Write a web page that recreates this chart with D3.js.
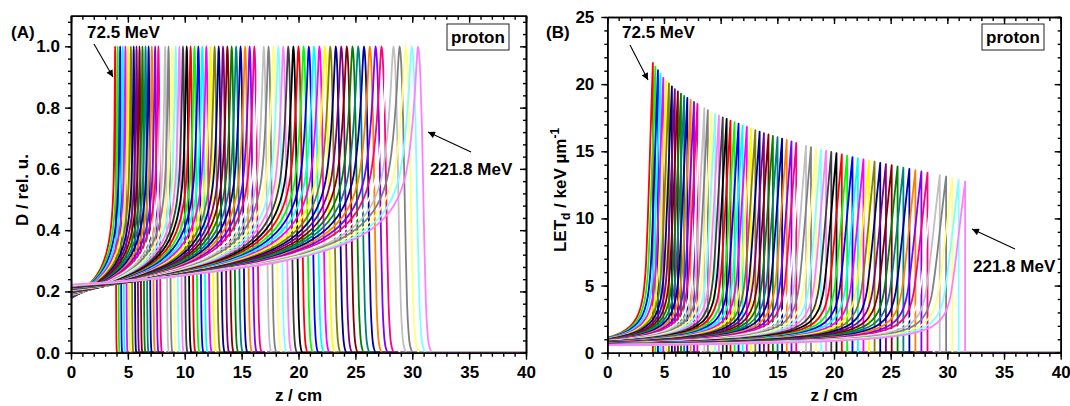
<!DOCTYPE html>
<html>
<head>
<meta charset="utf-8">
<script src="https://cdn.jsdelivr.net/npm/d3@7"></script>
<style>
  body { margin: 0; background: #fff; }
  svg { display: block; font-family: "Liberation Sans", Arial, sans-serif; font-weight: bold; }
</style>
</head>
<body>
<svg id="fig" width="1070" height="406"></svg>
<script>
// Proton beam energies (MeV), one depth-dose and one LETd curve per energy
const energies = [72.5,74.7,76.8,79.0,81.2,83.3,85.5,87.6,89.8,92.0,94.1,96.3,98.5,100.6,102.8,105.0,107.1,109.3,111.4,113.6,
  115.8,117.9,120.1,122.3,124.4,126.6,128.8,130.9,133.1,135.2,137.4,139.6,141.7,143.9,146.1,148.2,150.4,152.6,154.7,156.9,
  159.1,161.2,163.4,165.5,167.7,169.9,172.0,174.2,176.4,178.5,180.7,182.9,185.0,187.2,189.3,191.5,193.7,195.8,198.0,200.2,
  202.3,204.5,206.7,208.8,211.0,213.2,215.3,217.5,219.6,221.8];

// Depth of the dose maximum (cm)
const peakDepth = [3.88,4.10,4.32,4.55,4.78,5.01,5.26,5.51,5.76,6.02,6.28,6.55,6.82,7.10,7.39,7.68,7.97,8.27,8.57,8.88,
  9.20,9.52,9.84,10.17,10.51,10.85,11.19,11.54,11.89,12.25,12.62,12.98,13.36,13.74,14.12,14.51,14.90,15.30,15.70,16.11,
  16.52,16.94,17.36,17.78,18.22,18.65,19.09,19.54,19.99,20.44,20.90,21.36,21.83,22.31,22.78,23.27,23.75,24.24,24.74,25.24,
  25.75,26.26,26.77,27.29,27.81,28.34,28.88,29.41,29.95,30.50];

// Depth of the LETd maximum (cm)
const letPeakDepth = [4.02,4.24,4.47,4.70,4.94,5.19,5.44,5.70,5.96,6.23,6.50,6.78,7.06,7.35,7.65,7.95,8.25,8.56,8.87,9.19,
  9.52,9.85,10.19,10.53,10.87,11.23,11.58,11.94,12.31,12.68,13.06,13.44,13.82,14.22,14.61,15.02,15.42,15.83,16.25,16.67,
  17.10,17.53,17.97,18.41,18.85,19.30,19.76,20.22,20.69,21.16,21.63,22.11,22.60,23.09,23.58,24.08,24.58,25.09,25.61,26.12,
  26.65,27.18,27.71,28.25,28.79,29.33,29.89,30.44,31.00,31.57];

// LETd maximum (keV/um)
const letPeak = [21.58,21.31,21.04,20.76,20.47,20.25,20.05,19.84,19.63,19.46,19.30,19.13,18.97,18.82,18.68,18.53,18.38,18.22,18.06,17.92,
  17.79,17.66,17.53,17.42,17.29,17.17,17.05,16.92,16.81,16.70,16.58,16.47,16.35,16.25,16.15,16.05,15.94,15.84,15.74,15.63,
  15.53,15.42,15.31,15.22,15.13,15.04,14.95,14.86,14.76,14.67,14.57,14.48,14.40,14.31,14.22,14.14,14.05,13.96,13.87,13.78,
  13.69,13.59,13.50,13.41,13.31,13.22,13.12,13.00,12.88,12.76];

// Relative dose at the surface (z = 0)
const entranceDose = [0.178,0.179,0.179,0.180,0.181,0.181,0.182,0.182,0.183,0.184,0.184,0.185,0.186,0.186,0.187,0.188,0.188,0.189,0.189,0.190,
  0.191,0.191,0.192,0.193,0.193,0.194,0.195,0.195,0.196,0.196,0.197,0.198,0.198,0.199,0.200,0.200,0.201,0.202,0.202,0.203,
  0.204,0.204,0.205,0.205,0.206,0.207,0.207,0.208,0.209,0.209,0.210,0.211,0.211,0.212,0.212,0.213,0.214,0.214,0.215,0.216,
  0.216,0.217,0.218,0.218,0.219,0.219,0.220,0.221,0.221,0.222];

// LETd at the surface (keV/um)
const entranceLet = [1.120,1.100,1.082,1.064,1.047,1.030,1.015,0.999,0.985,0.971,0.958,0.945,0.932,0.920,0.908,0.897,0.886,0.876,0.865,0.855,
  0.846,0.836,0.827,0.819,0.810,0.802,0.794,0.786,0.778,0.770,0.763,0.756,0.749,0.742,0.736,0.729,0.723,0.717,0.711,0.705,
  0.699,0.693,0.688,0.682,0.677,0.672,0.667,0.662,0.657,0.652,0.648,0.643,0.638,0.634,0.630,0.625,0.621,0.617,0.613,0.609,
  0.605,0.601,0.597,0.594,0.590,0.586,0.583,0.579,0.576,0.573];

// Bragg curve profile: depth as a fraction of the peak depth, relative dose
const doseShapeU = [0,0.1,0.2,0.3,0.4,0.5,0.6,0.7,0.75,0.8,0.85,0.88,0.91,0.93,0.95,0.965,0.975,0.985,0.992,0.997,1.0,
  1.003,1.007,1.011,1.015,1.019,1.023,1.028,1.034,1.042];
const doseShapeD = [0.200,0.208,0.217,0.228,0.242,0.258,0.277,0.303,0.321,0.343,0.374,0.399,0.433,0.465,0.512,0.570,0.640,0.750,0.860,0.960,1.0,
  0.98,0.90,0.76,0.55,0.33,0.16,0.06,0.015,0];

// LETd build-up: distance before the LETd maximum (in units of the build-up width), fraction of the rise
const letShapeT = [0,0.1,0.25,0.5,0.75,1.0,1.3,1.7,2.2,3,4,5.5,7,9,12,16,20,25,35];
const letShapeQ = [1,0.93,0.82,0.63,0.45,0.30,0.21,0.155,0.118,0.088,0.066,0.048,0.037,0.027,0.017,0.009,0.004,0.001,0];

const depthTicks = [0,5,10,15,20,25,30,35,40];
const doseTicks = [0,0.2,0.4,0.6,0.8,1.0];
const letTicks = [0,5,10,15,20,25];

// Origin default colour increment list
const curveColors = ["#000000","#FF0000","#00FF00","#0000FF","#00FFFF","#FF00FF","#FFFF00","#808000",
  "#000080","#800080","#800000","#008000","#008080","#0000A0","#FF8000","#8000FF",
  "#FF0080","#FFFFFF","#C0C0C0","#808080","#FFFF80","#80FFFF","#FF80FF","#404040"];

const svg = d3.select("#fig");
const defs = svg.append("defs");
defs.append("marker").attr("id", "head").attr("viewBox", "0 0 10 10")
  .attr("refX", 10).attr("refY", 5).attr("markerWidth", 9).attr("markerHeight", 7)
  .attr("markerUnits", "userSpaceOnUse").attr("orient", "auto")
  .append("path").attr("d", "M0,0L10,5L0,10Z").attr("fill", "#000");

const FONT = 17;
const LINE_W = 1.8;
const colorOf = i => curveColors[(i + 1) % curveColors.length];

function drawFrame(g, x, y, yMajor, yMinorStep, yFmt, yPad) {
  const [x0, x1] = x.range(), [y0, y1] = y.range();
  const minorX = d3.range(0, 40.001, 1);
  const [ylo, yhi] = y.domain();
  const minorY = d3.range(ylo, yhi + 1e-9, yMinorStep);

  const styleAxis = sel => {
    sel.selectAll("path").attr("stroke", "#000").attr("stroke-width", 1.6);
    sel.selectAll("line").attr("stroke", "#000").attr("stroke-width", 1.4);
    sel.selectAll("text").attr("font-size", FONT).attr("font-weight", "bold")
      .attr("font-family", '"Liberation Sans", Arial, sans-serif').attr("fill", "#000");
  };
  // bottom
  g.append("g").attr("transform", `translate(0,${y0})`)
    .call(d3.axisBottom(x).tickValues(minorX).tickSize(4).tickFormat("").tickSizeOuter(0)).call(styleAxis);
  g.append("g").attr("transform", `translate(0,${y0})`)
    .call(d3.axisBottom(x).tickValues(depthTicks).tickSize(7).tickPadding(6).tickFormat(d3.format("d")).tickSizeOuter(0)).call(styleAxis);
  // top (ticks inward)
  g.append("g").attr("transform", `translate(0,${y1})`)
    .call(d3.axisTop(x).tickValues(minorX).tickSize(-4).tickFormat("").tickSizeOuter(0)).call(styleAxis);
  g.append("g").attr("transform", `translate(0,${y1})`)
    .call(d3.axisTop(x).tickValues(depthTicks).tickSize(-7).tickFormat("").tickSizeOuter(0)).call(styleAxis);
  // left
  g.append("g").attr("transform", `translate(${x0},0)`)
    .call(d3.axisLeft(y).tickValues(minorY).tickSize(3).tickFormat("").tickSizeOuter(0)).call(styleAxis);
  g.append("g").attr("transform", `translate(${x0},0)`)
    .call(d3.axisLeft(y).tickValues(yMajor).tickSize(6).tickPadding(yPad).tickFormat(yFmt).tickSizeOuter(0)).call(styleAxis);
  // right (ticks inward)
  g.append("g").attr("transform", `translate(${x1},0)`)
    .call(d3.axisRight(y).tickValues(minorY).tickSize(-3).tickFormat("").tickSizeOuter(0)).call(styleAxis);
  g.append("g").attr("transform", `translate(${x1},0)`)
    .call(d3.axisRight(y).tickValues(yMajor).tickSize(-6).tickFormat("").tickSizeOuter(0)).call(styleAxis);
}

function label(g, txt, xPos, yPos, anchor = "start") {
  return g.append("text").attr("x", xPos).attr("y", yPos).attr("text-anchor", anchor)
    .attr("font-size", FONT).attr("fill", "#000").text(txt);
}

function arrow(g, xa, ya, xb, yb) {
  g.append("line").attr("x1", xa).attr("y1", ya).attr("x2", xb).attr("y2", yb)
    .attr("stroke", "#000").attr("stroke-width", 1.1).attr("marker-end", "url(#head)");
}

function tagBox(g, cx, cy) {
  g.append("rect").attr("x", cx - 31).attr("y", cy - 13).attr("width", 62).attr("height", 26)
    .attr("fill", "#fff").attr("stroke", "#222").attr("stroke-width", 1);
  label(g, "proton", cx, cy + 6, "middle");
}

/* ---------- (A) relative dose ---------- */
const gA = svg.append("g");
const xA = d3.scaleLinear().domain([0, 40]).range([71, 526]);
const yA = d3.scaleLinear().domain([0, 1.1]).range([352.7, 15.7]);

const doseLine = d3.line().x(d => xA(d[0])).y(d => yA(d[1])).curve(d3.curveMonotoneX);
const doseCurves = energies.map((e, i) => {
  const zp = peakDepth[i];
  const k = (1 - entranceDose[i]) / (1 - doseShapeD[0]);
  const pts = doseShapeU.map((u, j) => [u * zp, u <= 1 ? 1 - (1 - doseShapeD[j]) * k : doseShapeD[j]]);
  pts.push([40, 0]);
  return pts;
});
gA.append("g").selectAll("path").data(doseCurves).join("path")
  .attr("d", doseLine).attr("fill", "none")
  .attr("stroke", (d, i) => colorOf(i)).attr("stroke-width", LINE_W).attr("stroke-linejoin", "round");

drawFrame(gA, xA, yA, doseTicks, 0.04, d3.format(".1f"), 5);

label(gA, "(A)", 11, 38);
label(gA, `${energies[0]} MeV`, 87, 38);
arrow(gA, 94, 44, 113, 77);
label(gA, `${energies[energies.length - 1]} MeV`, 430, 175);
arrow(gA, 471, 152, 428, 132);
tagBox(gA, 478, 37);
label(gA, "z / cm", (71 + 526) / 2, 401, "middle");
gA.append("text").attr("transform", "translate(28,190) rotate(-90)").attr("text-anchor", "middle")
  .attr("font-size", FONT).text("D / rel. u.");

/* ---------- (B) dose-averaged LET ---------- */
const gB = svg.append("g");
const xB = d3.scaleLinear().domain([0, 40]).range([607.3, 1060.7]);
const yB = d3.scaleLinear().domain([0, 25]).range([352.7, 17]);

const qAt = d3.scaleLinear().domain(letShapeT).range(letShapeQ).clamp(true);
const letLine = d3.line().x(d => xB(d[0])).y(d => yB(d[1])).curve(d3.curveMonotoneX);
const letCurves = energies.map((e, i) => {
  const zL = letPeakDepth[i], Lp = letPeak[i], e0 = entranceLet[i] / Lp;
  const W = 0.6 * Math.pow(zL / 4, 0.37);
  const T = zL / W, qT = qAt(T);
  const pts = [[0, entranceLet[i]]];
  for (let j = letShapeT.length - 1; j >= 0; j--) {
    if (letShapeT[j] >= T) continue;
    const q = (letShapeQ[j] - qT) / (1 - qT);
    pts.push([zL - letShapeT[j] * W, Lp * (e0 + (1 - e0) * q)]);
  }
  return pts;
});
gB.append("g").selectAll("path").data(letCurves).join("path")
  .attr("d", d => letLine(d) + `V${yB(0)}H${xB(40)}`).attr("fill", "none")
  .attr("stroke", (d, i) => colorOf(i)).attr("stroke-width", LINE_W).attr("stroke-linejoin", "round");

drawFrame(gB, xB, yB, letTicks, 1, d3.format("d"), 7);

label(gB, "(B)", 546, 38);
label(gB, `${energies[0]} MeV`, 622, 38);
arrow(gB, 630, 45, 648, 80);
label(gB, `${energies[energies.length - 1]} MeV`, 973, 272);
arrow(gB, 1015, 249, 972, 229);
tagBox(gB, 1013, 37);
label(gB, "z / cm", (607.3 + 1060.7) / 2, 401, "middle");
const yt = gB.append("text").attr("transform", "translate(566,190) rotate(-90)").attr("text-anchor", "middle")
  .attr("font-size", FONT);
yt.append("tspan").text("LET");
yt.append("tspan").attr("font-size", 12).attr("dy", 4).text("d");
yt.append("tspan").attr("dy", -4).text(" / keV \u00B5m");
yt.append("tspan").attr("font-size", 12).attr("dy", -7).text("-1");
</script>
</body>
</html>
